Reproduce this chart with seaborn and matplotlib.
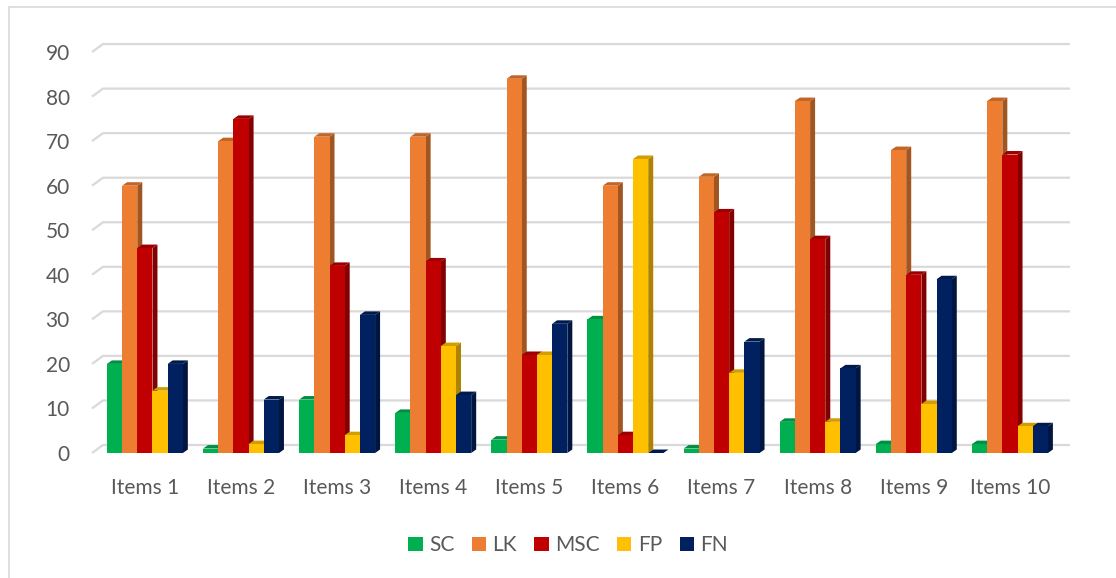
import numpy as np
import pandas as pd
import matplotlib
matplotlib.use("Agg")
import matplotlib.pyplot as plt
import matplotlib.colors as mcolors
from matplotlib.patches import Polygon
from matplotlib.lines import Line2D
import seaborn as sns

# data
items = ["Items 1", "Items 2", "Items 3", "Items 4", "Items 5",
         "Items 6", "Items 7", "Items 8", "Items 9", "Items 10"]
series = ["SC", "LK", "MSC", "FP", "FN"]
sc = [20, 1, 12, 9, 3, 30, 1, 7, 2, 2]
lk = [60, 70, 71, 71, 84, 60, 62, 79, 68, 79]
msc = [46, 75, 42, 43, 22, 4, 54, 48, 40, 67]
fp = [14, 2, 4, 24, 22, 66, 18, 7, 11, 6]
fn = [20, 12, 31, 13, 29, 0, 25, 19, 39, 6]
colors = ["#00B050", "#ED7D31", "#C00000", "#FFC000", "#002060"]
yticks = [0, 10, 20, 30, 40, 50, 60, 70, 80, 90]

df = pd.DataFrame({"SC": sc, "LK": lk, "MSC": msc, "FP": fp, "FN": fn}, index=items)
long_df = df.reset_index(names="item").melt(id_vars="item", var_name="series", value_name="value")

sns.set_theme(style="white")
plt.rcParams["font.family"] = ["Lato", "DejaVu Sans"]
text_color = "#595959"
grid_color = "#d9d9d9"

# front plane: 0 at y=453 px, 4.455 px per unit
px_y = 4.455
base = 453
fig = plt.figure(figsize=(11.16, 5.78), dpi=100)
ax = fig.add_axes([92 / 1116, 1 - base / 578, 978 / 1116, 90 * px_y / 578])

sns.barplot(data=long_df, x="item", y="value", hue="series", order=items,
            hue_order=series, palette=colors, width=0.79, gap=0,
            saturation=1, edgecolor="none", linewidth=0, ax=ax, legend=False)

ax.set_xlim(-0.55, 9.625)
ax.set_ylim(0, 90)

# fake 3d depth
px_x = 96.1           # pixels per category
dx, dy = 5 / px_x, 3.5 / px_y

for k, (container, col) in enumerate(zip(ax.containers, colors)):
    dark = tuple(np.array(mcolors.to_rgb(col)) * 0.68)
    mid = tuple(np.array(mcolors.to_rgb(col)) * 0.82)
    for bar in container:
        bar.set_zorder(3 + 0.1 * k + 0.05)
        x0 = bar.get_x()
        x1 = x0 + bar.get_width()
        h = bar.get_height()
        side = Polygon([(x1, 0), (x1 + dx, dy), (x1 + dx, h + dy), (x1, h)],
                       closed=True, facecolor=dark, edgecolor="none",
                       zorder=3 + 0.1 * k + 0.01, clip_on=False)
        top = Polygon([(x0, h), (x0 + dx, h + dy), (x1 + dx, h + dy), (x1, h)],
                      closed=True, facecolor=mid, edgecolor="none",
                      zorder=3 + 0.1 * k + 0.01, clip_on=False)
        ax.add_patch(side)
        ax.add_patch(top)

# back wall gridlines with slanted floor edge
off = 8 / px_y
slant = 11 / px_x
x_left, x_right = ax.get_xlim()
for v in yticks:
    ax.plot([x_left, x_left + slant, x_right], [v, v + off, v + off],
            color=grid_color, lw=1.6, zorder=1, clip_on=False,
            solid_capstyle="butt")

for s in ax.spines.values():
    s.set_visible(False)
ax.set_yticks(yticks)
ax.set_xlabel("")
ax.set_ylabel("")
ax.tick_params(axis="x", length=0, pad=18, labelsize=15, labelcolor=text_color)
ax.tick_params(axis="y", length=0, pad=16, labelsize=15, labelcolor=text_color)

handles = [plt.Rectangle((0, 0), 1, 1, facecolor=c, edgecolor="none") for c in colors]
fig.legend(handles, series, loc="center", bbox_to_anchor=(568 / 1116, 1 - 545 / 578),
           ncol=5, frameon=False, fontsize=15, labelcolor=text_color,
           handlelength=0.68, handleheight=0.68, handletextpad=0.3, columnspacing=0.85)

# chart area border (top and left visible)
fig.add_artist(Line2D([9 / 1116, 1.0], [1 - 7 / 578, 1 - 7 / 578],
                      transform=fig.transFigure, color=grid_color, lw=1.2))
fig.add_artist(Line2D([9 / 1116, 9 / 1116], [0.0, 1 - 7 / 578],
                      transform=fig.transFigure, color=grid_color, lw=1.2))

fig.savefig("out.png", dpi=100)
